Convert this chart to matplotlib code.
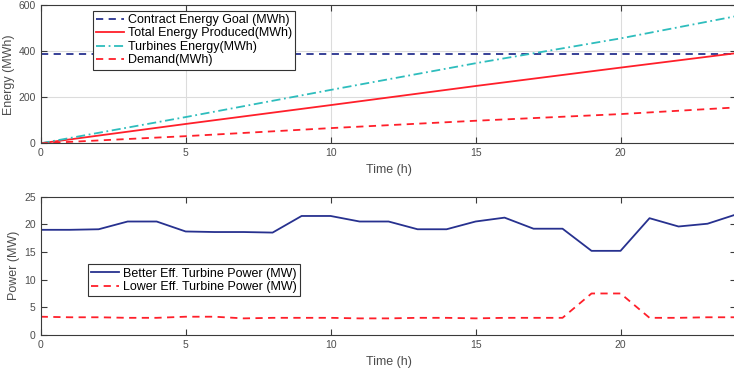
import matplotlib
matplotlib.use("Agg")
import matplotlib.pyplot as plt
import numpy as np

plt.rcParams['font.family'] = ['Liberation Sans', 'DejaVu Sans']

# Energy (top) data
t_energy = [0, 5, 10, 15, 20, 24]
contract_goal = [388, 388, 388, 388, 388, 388]
total_energy = [0, 84, 166, 249, 329, 392]
turbines_energy = [0, 114, 232, 348, 456, 553]
demand = [0, 31, 66, 98, 127, 156]

# Power (bottom) data
hours = list(range(25))
better_power = [19.0, 19.0, 19.1, 20.5, 20.5, 18.7, 18.6, 18.6, 18.5, 21.5, 21.5, 20.5, 20.5,
                19.1, 19.1, 20.5, 21.2, 19.2, 19.2, 15.2, 15.2, 21.1, 19.6, 20.1, 21.8]
lower_power = [3.3, 3.2, 3.2, 3.1, 3.1, 3.3, 3.3, 3.0, 3.1, 3.1, 3.1, 3.0, 3.0,
               3.1, 3.1, 3.0, 3.1, 3.1, 3.1, 7.5, 7.5, 3.1, 3.1, 3.2, 3.2]

navy = '#27318f'
red = '#ff1f2a'
cyan = '#2ebdbd'
tick_col = '#4d4d4d'
spine_col = '#3a3a3a'

fig = plt.figure(figsize=(7.34, 3.72), dpi=100)
ax1 = fig.add_axes([0.0554, 0.6148, 0.948, 0.371])
ax2 = fig.add_axes([0.0554, 0.0995, 0.948, 0.372])

ax1.plot(t_energy, contract_goal, '--', color=navy, lw=1.3, dashes=(4, 3), label='Contract Energy Goal (MWh)')
ax1.plot(t_energy, total_energy, '-', color=red, lw=1.3, label='Total Energy Produced(MWh)')
ax1.plot(t_energy, turbines_energy, '-.', color=cyan, lw=1.3, dashes=(5, 2, 1, 2), label='Turbines Energy(MWh)')
ax1.plot(t_energy, demand, '--', color=red, lw=1.3, dashes=(4, 3), label='Demand(MWh)')
ax1.set_xlim(0, 24)
ax1.set_ylim(0, 600)
ax1.set_yticks([0, 200, 400, 600])
ax1.set_xticks([0, 5, 10, 15, 20])
ax1.grid(True, color='#dcdcdc', lw=0.8)
ax1.set_axisbelow(True)
ax1.set_xlabel('Time (h)', fontsize=9, color=tick_col)
ax1.set_ylabel('Energy (MWh)', fontsize=9, color=tick_col)
ax1.xaxis.set_label_coords(0.5, -0.15)
ax1.yaxis.set_label_coords(-0.037, 0.5)
leg1 = ax1.legend(loc='upper left', bbox_to_anchor=(0.0755, 0.96), fontsize=9, frameon=True,
                  fancybox=False, edgecolor='#333333', framealpha=1, handlelength=2.2,
                  handletextpad=0.3, borderpad=0.25, labelspacing=0.12, borderaxespad=0)
leg1.get_frame().set_linewidth(0.8)

ax2.plot(hours, better_power, '-', color=navy, lw=1.3, label='Better Eff. Turbine Power (MW)')
ax2.plot(hours, lower_power, '--', color=red, lw=1.3, dashes=(4, 3), label='Lower Eff. Turbine Power (MW)')
ax2.set_xlim(0, 24)
ax2.set_ylim(0, 25)
ax2.set_yticks([0, 5, 10, 15, 20, 25])
ax2.set_xticks([0, 5, 10, 15, 20])
ax2.set_xlabel('Time (h)', fontsize=9, color=tick_col)
ax2.set_ylabel('Power (MW)', fontsize=9, color=tick_col)
ax2.xaxis.set_label_coords(0.5, -0.15)
ax2.yaxis.set_label_coords(-0.030, 0.5)
leg2 = ax2.legend(loc='upper left', bbox_to_anchor=(0.0685, 0.51), fontsize=9, frameon=True,
                  fancybox=False, edgecolor='#333333', framealpha=1, handlelength=2.2,
                  handletextpad=0.3, borderpad=0.25, labelspacing=0.12, borderaxespad=0)
leg2.get_frame().set_linewidth(0.8)

for ax in (ax1, ax2):
    for s in ax.spines.values():
        s.set_color(spine_col)
        s.set_linewidth(0.8)
    ax.tick_params(direction='in', top=True, right=True, length=4, width=0.8,
                   colors=spine_col, labelcolor=tick_col, labelsize=7.5, pad=3.5)

fig.savefig('out.png', dpi=100)
